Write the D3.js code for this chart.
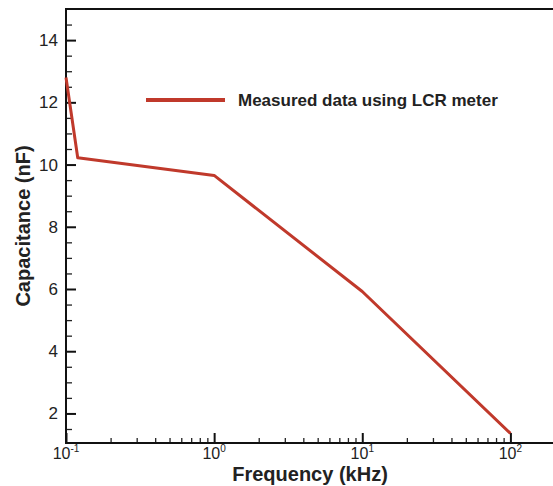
<!DOCTYPE html>
<html>
<head>
<meta charset="utf-8">
<script src="https://cdn.jsdelivr.net/npm/d3@7"></script>
<style>
  body { margin: 0; background: #fff; }
  svg { display: block; font-family: "Liberation Sans", Arial, sans-serif; }
</style>
</head>
<body>
<div class="grafico"></div>
<script>
// frequency (kHz) and capacitance (nF)
var freq = [0.1, 0.12, 1, 10, 100];
var cap = [12.8, 10.22, 9.65, 5.92, 1.36];

var xMajor = [0.1, 1, 10, 100];
var xExp = ["-1", "0", "1", "2"];
var yMajor = [2, 4, 6, 8, 10, 12, 14];

var legendText = "Measured data using LCR meter";
var xTitle = "Frequency (kHz)";
var yTitle = "Capacitance (nF)";

var width = 553, height = 486;
// note: "top" is taken by window.top, so plotTop
var plotLeft = 66, plotTop = 9, plotBottom = 443;
var lineColor = "#c0392b";

var svg = d3.select(".grafico").append("svg")
  .attr("width", width)
  .attr("height", height);

// log scale on x, plot runs off the right edge like the original
var x = d3.scaleLog().domain([0.1, 200]).range([plotLeft, 555]);
var y = d3.scaleLinear().domain([1.05, 15]).range([plotBottom, plotTop]);

// minor ticks
var xMinor = [];
[0.1, 1, 10, 100].forEach(function(d){
  for (var k = 2; k <= 9; k++) if (d * k <= 200) xMinor.push(d * k);
});
var yMinor = d3.range(1.5, 15, 0.5).filter(function(v){ return v % 2 != 0; });

svg.append("g")
  .attr("transform", "translate(0," + plotBottom + ")")
  .call(d3.axisBottom(x).tickValues(xMinor).tickSize(-5).tickFormat(""))
  .call(function(g){ g.select(".domain").remove(); g.selectAll("line").attr("stroke", "#222").attr("stroke-width", 1.3); });

svg.append("g")
  .attr("transform", "translate(0," + plotBottom + ")")
  .call(d3.axisBottom(x).tickValues(xMajor).tickSize(-10).tickFormat(""))
  .call(function(g){ g.select(".domain").remove(); g.selectAll("line").attr("stroke", "#111").attr("stroke-width", 2); });

svg.append("g")
  .attr("transform", "translate(" + plotLeft + ",0)")
  .call(d3.axisLeft(y).tickValues(yMinor).tickSize(-6).tickFormat(""))
  .call(function(g){ g.select(".domain").remove(); g.selectAll("line").attr("stroke", "#222").attr("stroke-width", 1.3); });

svg.append("g")
  .attr("transform", "translate(" + plotLeft + ",0)")
  .call(d3.axisLeft(y).tickValues(yMajor).tickSize(-10).tickFormat(""))
  .call(function(g){ g.select(".domain").remove(); g.selectAll("line").attr("stroke", "#111").attr("stroke-width", 2); });

// frame (left, bottom, top)
svg.append("path")
  .attr("d", "M" + width + "," + plotTop + "H" + plotLeft + "V" + plotBottom + "H" + width)
  .attr("fill", "none")
  .attr("stroke", "#111")
  .attr("stroke-width", 2);

// y tick labels
svg.selectAll(".ylab").data(yMajor).enter().append("text")
  .attr("x", plotLeft - 8)
  .attr("y", function(d){ return y(d) + 6; })
  .attr("text-anchor", "end")
  .attr("font-size", 17)
  .attr("fill", "#222")
  .text(function(d){ return d; });

// x tick labels 10^n
var xl = svg.selectAll(".xlab").data(xMajor).enter().append("text")
  .attr("x", function(d){ return x(d); })
  .attr("y", 459)
  .attr("text-anchor", "middle")
  .attr("font-size", 16)
  .attr("fill", "#222");
xl.append("tspan").text("10");
xl.append("tspan").attr("font-size", 10).attr("dy", -7).text(function(d, i){ return xExp[i]; });

// data line
var line = d3.line()
  .x(function(d, i){ return x(freq[i]); })
  .y(function(d){ return y(d); });

svg.append("path")
  .datum(cap)
  .attr("d", line)
  .attr("fill", "none")
  .attr("stroke", lineColor)
  .attr("stroke-width", 3)
  .attr("stroke-linejoin", "round");

// legend
svg.append("line")
  .attr("x1", 146).attr("x2", 225)
  .attr("y1", 100).attr("y2", 100)
  .attr("stroke", lineColor)
  .attr("stroke-width", 4);

svg.append("text")
  .attr("x", 238).attr("y", 106)
  .attr("font-size", 17)
  .attr("font-weight", "bold")
  .attr("fill", "#222")
  .text(legendText);

// axis titles
svg.append("text")
  .attr("x", 310).attr("y", 481)
  .attr("text-anchor", "middle")
  .attr("font-size", 20)
  .attr("font-weight", "bold")
  .attr("fill", "#222")
  .text(xTitle);

svg.append("text")
  .attr("transform", "translate(30," + ((plotTop + plotBottom) / 2) + ") rotate(-90)")
  .attr("text-anchor", "middle")
  .attr("font-size", 20)
  .attr("font-weight", "bold")
  .attr("fill", "#222")
  .text(yTitle);
</script>
</body>
</html>
